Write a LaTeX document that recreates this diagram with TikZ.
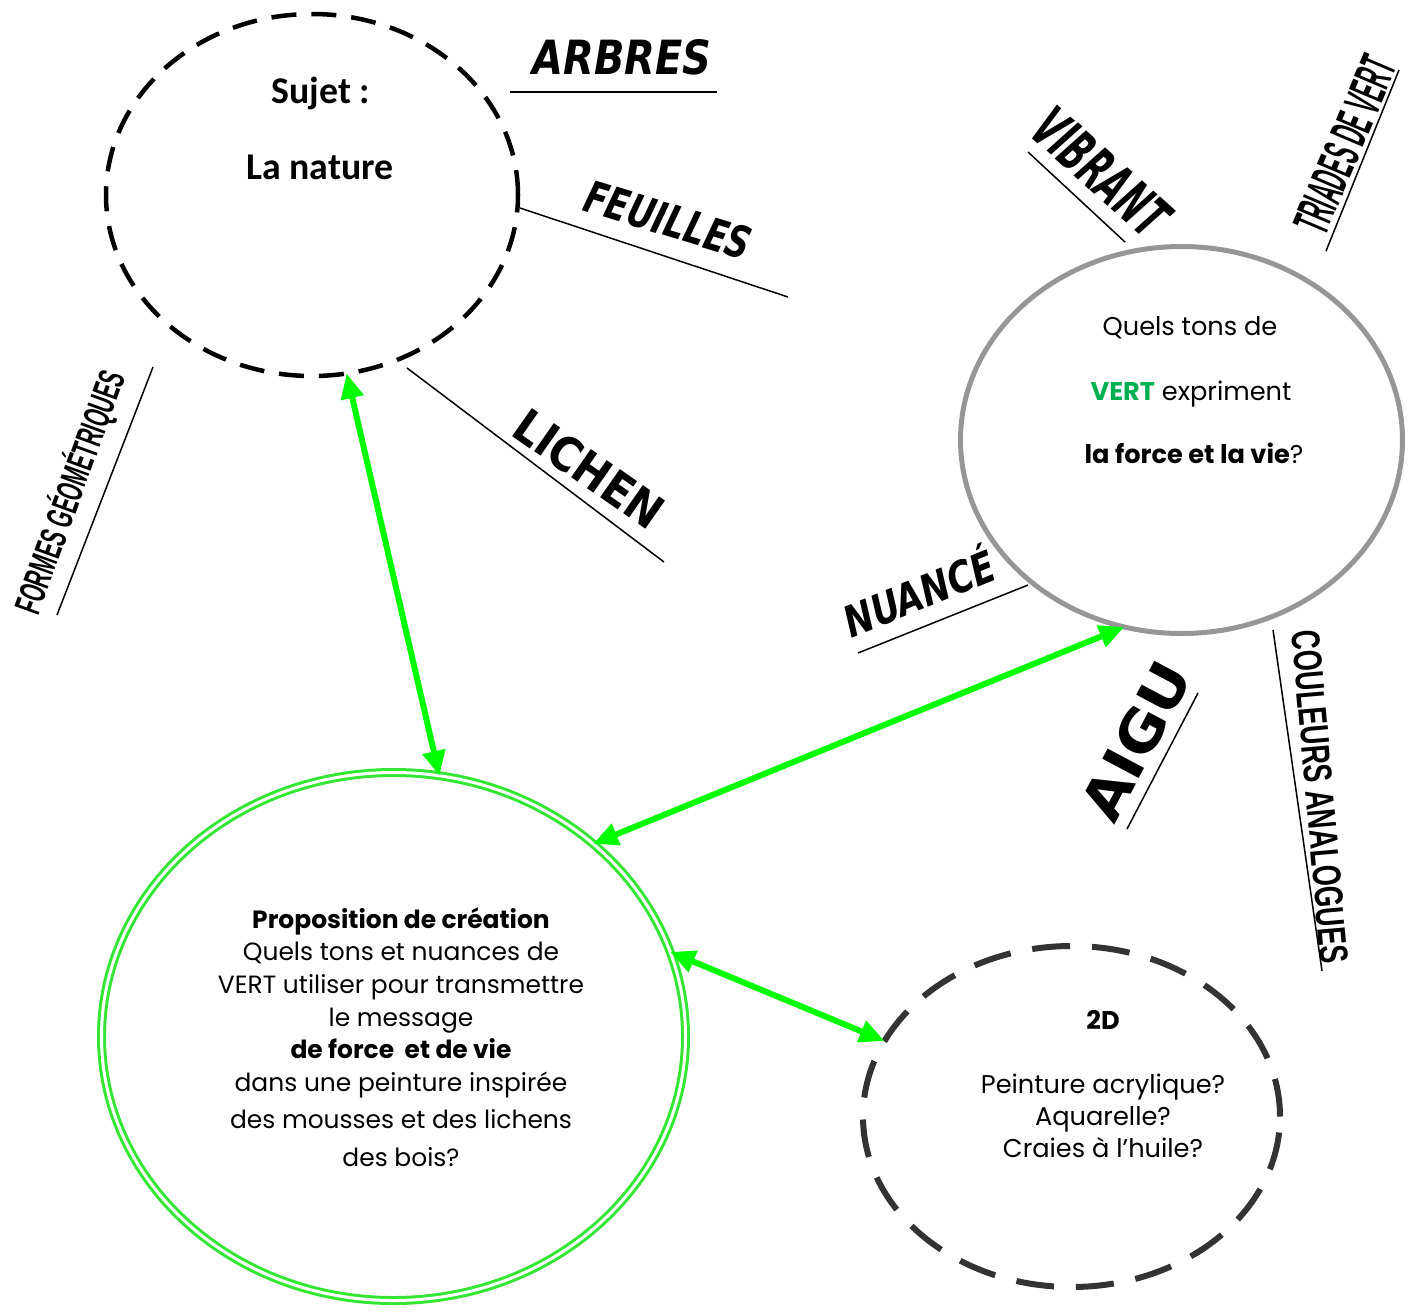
\documentclass[tikz,border=0pt]{standalone}
\usepackage{fontspec}
\usepackage{graphicx}
\usetikzlibrary{shapes.geometric,arrows.meta}
\setmainfont{Poppins}
\newfontfamily\carlito{Carlito}
\newfontfamily\dvs{DejaVu Sans}
\newfontfamily\libs{Liberation Sans}
\newlength\pxl
\setlength\pxl{0.02cm}
\newcommand\kwbox[3]{\resizebox{#1\pxl}{#2\pxl}{#3}}
\definecolor{arrowgreen}{RGB}{0,255,0}
\definecolor{circgreen}{RGB}{51,230,51}
\definecolor{vertword}{RGB}{0,176,80}
\definecolor{greyline}{RGB}{150,150,150}
\definecolor{darkdash}{RGB}{51,51,51}
\begin{document}
\begin{tikzpicture}[x=0.02cm,y=-0.02cm,
  shapebox/.style={ellipse, inner sep=0pt, outer sep=0pt},
  sujetc/.style={shapebox, draw=black, line width=0.09cm, dash pattern=on 0.5cm off 0.3cm},
  greyc/.style={shapebox, draw=greyline, line width=0.1cm},
  propc/.style={shapebox, draw=circgreen, line width=0.06cm, double=white, double distance=0.06cm},
  twodc/.style={shapebox, draw=darkdash, line width=0.12cm, dash pattern=on 0.76cm off 0.44cm},
  garrow/.style={draw=arrowgreen, line width=0.12cm,
     {Triangle[length=0.5cm,width=0.44cm]}-{Triangle[length=0.5cm,width=0.44cm]}},
  uline/.style={draw=black, line width=0.03cm},
  body/.style={anchor=base, inner sep=0pt, font=\fontsize{14.2}{16}\selectfont},
  bodyb/.style={anchor=base, inner sep=0pt, font=\fontsize{14.2}{16}\selectfont\bfseries},
  bodyw/.style={anchor=base, inner sep=0pt, font=\fontsize{14.6}{16}\selectfont},
  bodywb/.style={anchor=base, inner sep=0pt, font=\fontsize{14.6}{16}\selectfont\bfseries},
  sujt/.style={anchor=base, inner sep=0pt, font=\carlito\fontsize{21.5}{24}\selectfont\bfseries},
  kw/.style={inner sep=0pt, text=black}
]
\useasboundingbox (0,0) rectangle (1413,1313);

% circles
\node[sujetc, minimum width=412\pxl, minimum height=362\pxl] (sujet) at (312,195) {};
\node[greyc, minimum width=442\pxl, minimum height=387\pxl] (grey) at (1181.5,440) {};
\node[propc, minimum width=584\pxl, minimum height=528\pxl] (prop) at (393.5,1036.5) {};
\node[twodc, minimum width=417\pxl, minimum height=341\pxl] (twod) at (1071.5,1116.5) {};

% arrows
\draw[garrow] (sujet.-79) -- (prop.80);
\draw[garrow] (grey.-107) -- (prop.44);
\draw[garrow] (prop.17) -- (twod.158);

% texts in Sujet
\node[sujt] (s1) at (321,103) {Sujet :};
\node[sujt] (s2) at (320,179) {La nature};

% texts in grey circle
\node[bodyw] (g1) at (1190,335) {Quels tons de};
\node[bodyw] (g2) at (1191,400) {\textcolor{vertword}{\bfseries VERT} expriment};
\node[bodyw] (g3) at (1194,463) {\textbf{la force et la vie}?};

% texts in green circle
\node[bodyb] (p1) at (401,928) {Proposition de création};
\node[body] (p2) at (401,960) {Quels tons et nuances de};
\node[body] (p3) at (401,993) {VERT utiliser pour transmettre};
\node[body] (p4) at (401,1026) {le message};
\node[bodyb] (p5) at (401,1058) {de force\ \ et de vie};
\node[body] (p6) at (401,1091) {dans une peinture inspirée};
\node[body] (p7) at (401,1128) {des mousses et des lichens};
\node[body] (p8) at (401,1166) {des bois?};

% texts in 2D circle
\node[bodywb] (d1) at (1103,1029) {2D};
\node[bodyw] (d2) at (1103,1093) {Peinture acrylique?};
\node[bodyw] (d3) at (1103,1125) {Aquarelle?};
\node[bodyw] (d4) at (1103,1157) {Craies à l’huile?};

% keywords
\node[kw] (arbres) at (622,57) {\kwbox{179}{35}{\dvs\bfseries\itshape ARBRES}};
\node[kw, rotate=-17] (feuilles) at (668,220) {\kwbox{172}{33}{\dvs\bfseries\itshape FEUILLES}};
\node[kw, rotate=-35] (lichen) at (589,469) {\kwbox{170}{35}{\dvs\bfseries LICHEN}};
\node[kw, rotate=70] (formes) at (70,492) {\kwbox{255}{33}{\libs\bfseries FORMES GÉOMÉTRIQUES}};
\node[kw, rotate=-42] (vibrant) at (1101,172) {\kwbox{160}{42}{\dvs\bfseries\itshape VIBRANT}};
\node[kw, rotate=67] (triades) at (1345,145) {\kwbox{186}{36}{\libs\bfseries TRIADES DE VERT}};
\node[kw, rotate=22] (nuance) at (918,590) {\kwbox{160}{40}{\dvs\bfseries\itshape NUANCÉ}};
\node[kw, rotate=62] (aigu) at (1136,741) {\kwbox{170}{42}{\dvs\bfseries AIGU}};
\node[kw, rotate=-85] (couleurs) at (1320,797) {\kwbox{334}{28}{\libs\bfseries COULEURS ANALOGUES}};

% underlines
\coordinate (a1) at (510,92);   \coordinate (a2) at (717,92);
\coordinate (f1) at (520,208);  \coordinate (f2) at (788,297);
\coordinate (l1) at (407,368);  \coordinate (l2) at (664,562);
\coordinate (fo1) at (57,615);  \coordinate (fo2) at (153,367);
\coordinate (v1) at (1028,152); \coordinate (v2) at (1125,242);
\coordinate (t1) at (1326,251); \coordinate (t2) at (1399,70);
\coordinate (n1) at (858,653);  \coordinate (n2) at (1028,585);
\coordinate (ai1) at (1127,829); \coordinate (ai2) at (1198,693);
\coordinate (c1) at (1273,630); \coordinate (c2) at (1322,971);
\draw[uline] (a1) -- (a2);
\draw[uline] (f1) -- (f2);
\draw[uline] (l1) -- (l2);
\draw[uline] (fo1) -- (fo2);
\draw[uline] (v1) -- (v2);
\draw[uline] (t1) -- (t2);
\draw[uline] (n1) -- (n2);
\draw[uline] (ai1) -- (ai2);
\draw[uline] (c1) -- (c2);
\end{tikzpicture}
\end{document}
